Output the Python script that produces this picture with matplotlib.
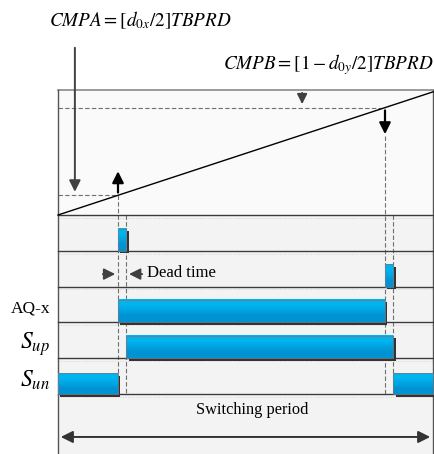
import numpy as np
import matplotlib.pyplot as plt
from matplotlib.patches import Rectangle

plt.rcParams['mathtext.fontset'] = 'stix'
plt.rcParams['font.family'] = ['Liberation Serif', 'DejaVu Serif']

# time in units of one switching period, counter value in units of TBPRD
cmpa = 0.16          # d0x / 2
cmpb = 0.872         # 1 - d0y / 2
dead = 0.022

# pulses per row, top to bottom: (start, end)
row_pulses = [
    [(cmpa, cmpa + dead)],
    [(cmpb, cmpb + dead)],
    [(cmpa, cmpb)],
    [(cmpa + dead, cmpb + dead)],
    [(0.0, cmpa), (cmpb + dead, 1.0)],
]
row_labels = ['', '', 'AQ-x', '$S_{up}$', '$S_{un}$']
bar_tops = [0.38, 0.38, 0.37, 0.37, 0.42]

ramp_h = 3.44   # rows covered by a full counter ramp
box_top = -3.49

fig = plt.figure(figsize=(4.34, 4.54), dpi=100)
ax = fig.add_axes([0, 0, 1, 1])
ax.axis('off')

# background of the timing box
ax.add_patch(Rectangle((0, box_top), 1, 7 - box_top + 3, fc='#f3f3f3', ec='none', zorder=0))
ax.add_patch(Rectangle((0, box_top), 1, -box_top, fc='#fafafa', ec='none', zorder=0))
ax.plot([0, 1], [box_top, box_top], color='#8a8a8a', lw=1.2, zorder=3)
ax.plot([0, 0], [box_top, 7], color='#555555', lw=1.0, zorder=3)
ax.plot([1, 1], [box_top, 7], color='#555555', lw=1.0, zorder=3)

# row separators
for i in range(6):
    ax.plot([0, 1], [i, i], color='#3c3c3c', lw=1.0, zorder=3)
    ax.plot([0, 1], [i + 0.08, i + 0.08], color='#d4d4d4', lw=0.7, ls=':', zorder=1)

# carrier ramp
t = np.array([0.0, 1.0])
ax.plot(t, -ramp_h * t, color='black', lw=1.0, zorder=4)

# compare levels
ax.plot([0, cmpb], [-ramp_h * cmpb] * 2, color='#707070', lw=0.8, ls=(0, (4, 2)), zorder=2)
ax.plot([0, cmpa], [-ramp_h * cmpa] * 2, color='#707070', lw=0.8, ls=(0, (4, 2)), zorder=2)

# event lines
vdash = dict(color='#707070', lw=0.8, ls=(0, (4, 2)), zorder=2)
ax.plot([cmpa, cmpa], [-ramp_h * cmpa, 5], **vdash)
ax.plot([cmpa + dead, cmpa + dead], [0, 5], **vdash)
ax.plot([cmpb, cmpb], [-ramp_h * cmpb + 0.8, 5], **vdash)
ax.plot([cmpb + dead, cmpb + dead], [0, 5], **vdash)

# compare match arrows
ax.annotate('', xy=(cmpa, -1.30), xytext=(cmpa, -ramp_h * cmpa),
            arrowprops=dict(arrowstyle='-|>', color='black', lw=1.6, mutation_scale=17), zorder=5)
ax.annotate('', xy=(cmpb, -2.18), xytext=(cmpb, -ramp_h * cmpb),
            arrowprops=dict(arrowstyle='-|>', color='black', lw=1.6, mutation_scale=17), zorder=5)
ax.annotate('', xy=(0.045, -ramp_h * cmpa - 0.02), xytext=(0.045, -4.75),
            arrowprops=dict(arrowstyle='-|>', color='#404040', lw=1.4, mutation_scale=17), zorder=5)
ax.annotate('', xy=(0.651, -ramp_h * cmpb - 0.02), xytext=(0.651, box_top),
            arrowprops=dict(arrowstyle='-|>', color='#404040', lw=1.3, mutation_scale=15), zorder=5)

ax.text(0.219, -5.45, r'$CMPA=[d_{0x}/2]TBPRD$', fontsize=13.8, ha='center', va='center')
ax.text(0.72, -4.19, r'$CMPB=[1-d_{0y}/2]TBPRD$', fontsize=13.8, ha='center', va='center')

# pulse bars with a drop shadow and vertical gradient
grad = np.array([[0.0], [1.0]])
cmap = plt.matplotlib.colors.LinearSegmentedColormap.from_list('bar', ['#00b4f0', '#0092d2'])
sx, sy = 0.006, 0.07
for i, pulses in enumerate(row_pulses):
    top = i + bar_tops[i]
    bot = i + 1
    for (a, b) in pulses:
        ax.add_patch(Rectangle((a + sx, top + sy), b - a, bot - top, fc='#333333', ec='none', zorder=5))
        ax.imshow(grad, cmap=cmap, extent=(a, b, bot, top), aspect='auto',
                  interpolation='bilinear', zorder=6)
        ax.add_patch(Rectangle((a, top), b - a, bot - top, fc='none', ec='#6a7f8c', lw=0.6, zorder=7))
    if row_labels[i]:
        fs = 12.5 if i == 2 else 17
        ax.text(-0.021, i + 0.62, row_labels[i], fontsize=fs, ha='right', va='center')

ax.set_xlim(-58 / 375, 376 / 375)
ax.set_ylim(6.676, -6.006)

# dead time marker
ax.annotate('', xy=(cmpa, 1.65), xytext=(0.112, 1.65),
            arrowprops=dict(arrowstyle='-|>', color='#404040', lw=1.3, mutation_scale=17), zorder=5)
ax.annotate('', xy=(cmpa + dead, 1.65), xytext=(0.232, 1.65),
            arrowprops=dict(arrowstyle='-|>', color='#404040', lw=1.3, mutation_scale=17), zorder=5)
ax.text(0.238, 1.63, 'Dead time', fontsize=12, ha='left', va='center')

# switching period
ax.text(0.517, 5.45, 'Switching period', fontsize=11.8, ha='center', va='center')
ax.annotate('', xy=(0, 6.2), xytext=(1, 6.2),
            arrowprops=dict(arrowstyle='<|-|>', color='#333333', lw=1.4, mutation_scale=18), zorder=5)

fig.savefig('out.png', dpi=100)
